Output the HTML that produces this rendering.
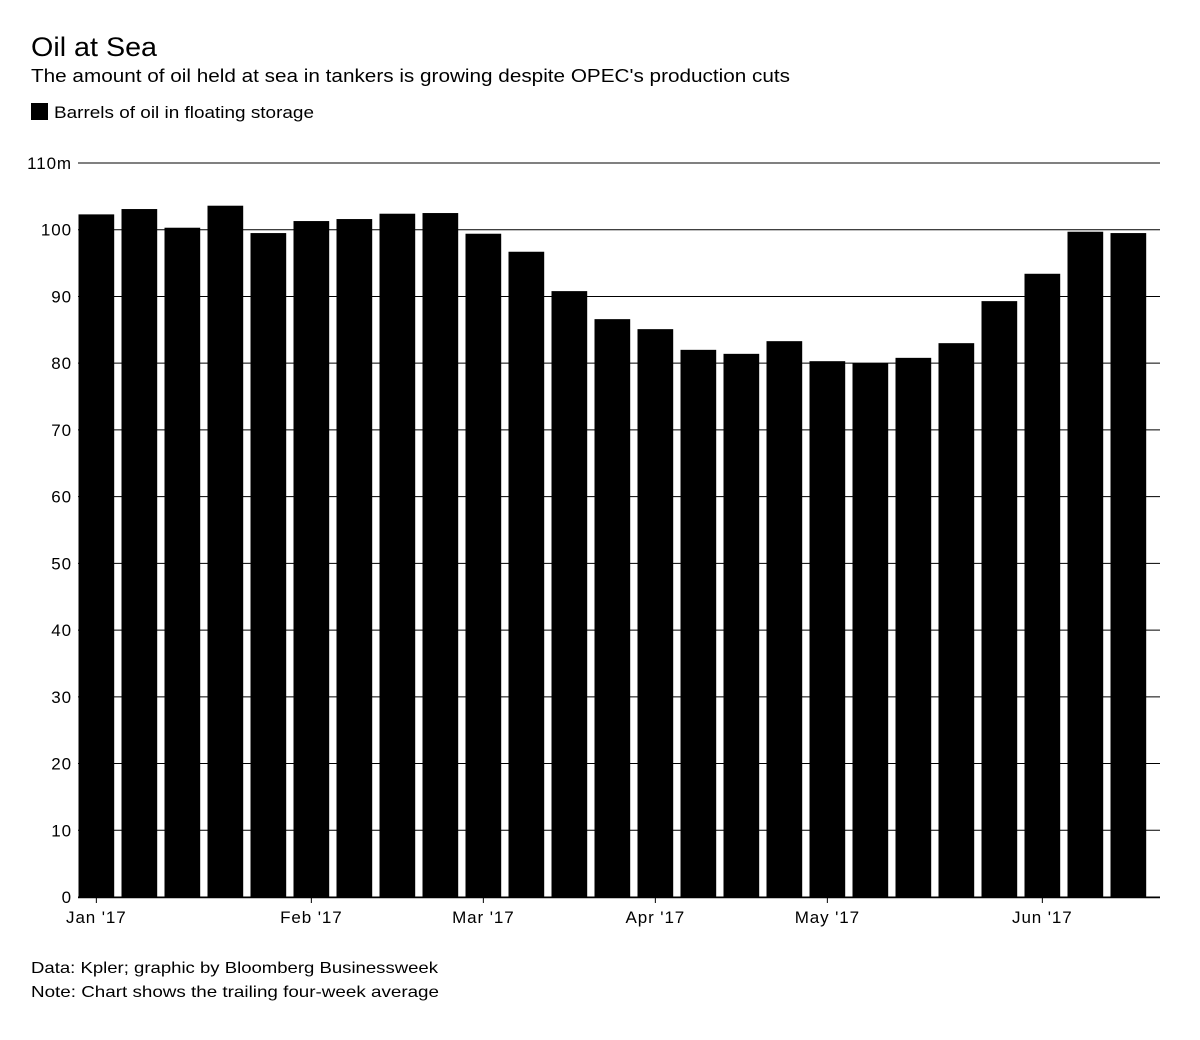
<!DOCTYPE html>
<html><head><meta charset="utf-8"><style>
body{margin:0;background:#fff;font-family:"Liberation Sans",sans-serif;color:#000}
svg text{font-family:"Liberation Sans",sans-serif}
.tk{letter-spacing:0.9px}
</style></head><body>
<svg id="c" width="1200" height="1035">
<text x="31" y="56" font-size="27" textLength="126" lengthAdjust="spacingAndGlyphs">Oil at Sea</text>
<text x="31" y="82" font-size="18" textLength="759" lengthAdjust="spacingAndGlyphs">The amount of oil held at sea in tankers is growing despite OPEC's production cuts</text>
<rect x="31" y="103" width="17" height="17" fill="#000"/>
<text x="54" y="118" font-size="17" textLength="260" lengthAdjust="spacingAndGlyphs">Barrels of oil in floating storage</text>
<g id="grid"></g><g id="bars"></g><g id="xaxis"></g>
<text x="31" y="973" font-size="16" textLength="407" lengthAdjust="spacingAndGlyphs">Data: Kpler; graphic by Bloomberg Businessweek</text>
<text x="31" y="997" font-size="16" textLength="408" lengthAdjust="spacingAndGlyphs">Note: Chart shows the trailing four-week average</text>
</svg>
<script>
const values=[102.3,103.1,100.3,103.6,99.5,101.3,101.6,102.4,102.5,99.4,96.7,90.8,86.6,85.1,82.0,81.4,83.3,80.3,80.0,80.8,83.0,89.3,93.4,99.7,99.5];
const yTicks=[0,10,20,30,40,50,60,70,80,90,100,110];
const yTickLabels=["0","10","20","30","40","50","60","70","80","90","100","110m"];
const xTickIndex=[0,5,9,13,17,22];
const xTickLabels=["Jan '17","Feb '17","Mar '17","Apr '17","May '17","Jun '17"];
const NS="http://www.w3.org/2000/svg";
const y=v=>897-v*(897-163)/110;
const step=43, x0=78.5, bw=35.7;
const xc=i=>x0+bw/2+i*step;
function mk(t,a,p){const e=document.createElementNS(NS,t);for(const k in a)e.setAttribute(k,a[k]);p.appendChild(e);return e;}
const g=document.getElementById('grid');
yTicks.forEach((t,i)=>{
 const l=mk('line',{x1:78,x2:1160,y1:y(t),y2:y(t),stroke:'#000','stroke-width':1},g);
 
 
 const tx=mk('text',{x:72,y:y(t)+6,'font-size':17,'text-anchor':'end',class:'tk'},g);
 tx.textContent=yTickLabels[i];
 
 
});
const b=document.getElementById('bars');
values.forEach((v,i)=>{
 const r=mk('rect',{x:x0+i*step,y:y(v),width:bw,height:y(0)-y(v),fill:'#000'},b);
 
 
});
const xa=document.getElementById('xaxis');
const ax=mk('line',{x1:78,x2:1160,y1:897.5,y2:897.5,stroke:'#000','stroke-width':1.5},xa);


xTickIndex.forEach((idx,i)=>{
 const X=xc(idx);
 const t=mk('line',{x1:X,x2:X,y1:897,y2:903,stroke:'#000'},xa);
 
 
 const tx=mk('text',{x:X,y:923,'font-size':17,'text-anchor':'middle',class:'tk'},xa);
 tx.textContent=xTickLabels[i];
 
 
});
</script>
</body></html>
